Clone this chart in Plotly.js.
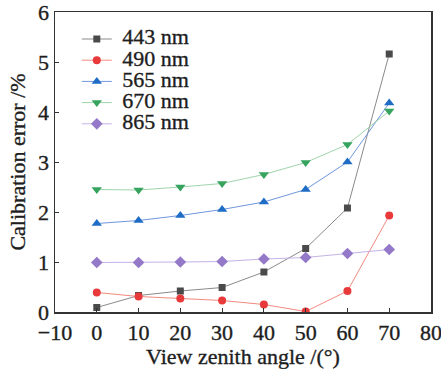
<!DOCTYPE html>
<html>
<head>
<meta charset="utf-8">
<script src="https://cdn.plot.ly/plotly-3.0.1.min.js"></script>
<style>
html,body{margin:0;padding:0;background:#fff;}
#chart{width:441px;height:369px;}
#chart svg text{stroke:#1e1e1e;stroke-width:0.35px;paint-order:stroke;}
</style>
</head>
<body>
<div id="chart"></div>
<script>
const angles = [0, 10, 20, 30, 40, 50, 60, 70];
const seriesNames = ["443 nm", "490 nm", "565 nm", "670 nm", "865 nm"];
const err443 = [0.09, 0.33, 0.42, 0.49, 0.80, 1.27, 2.08, 5.16];
const err490 = [0.39, 0.31, 0.27, 0.23, 0.15, 0.01, 0.42, 1.93];
const err565 = [1.77, 1.83, 1.93, 2.05, 2.20, 2.45, 3.00, 4.18];
const err670 = [2.45, 2.44, 2.50, 2.57, 2.75, 2.99, 3.35, 4.02];
const err865 = [0.99, 0.99, 1.00, 1.01, 1.06, 1.09, 1.17, 1.25];
const xTicks = [-10, 0, 10, 20, 30, 40, 50, 60, 70, 80];
const yTicks = [0, 1, 2, 3, 4, 5, 6];

const styles = [
  {line: "#8a8a8a", marker: "#4a4a4a", symbol: "square", size: 7},
  {line: "#f28a80", marker: "#e8393b", symbol: "circle", size: 8},
  {line: "#7097dc", marker: "#1e6cc6", symbol: "triangle-up", size: 9},
  {line: "#9fd4ab", marker: "#36a35f", symbol: "triangle-down", size: 9},
  {line: "#c3b3e6", marker: "#9579c9", symbol: "diamond", size: 9}
];
const values = [err443, err490, err565, err670, err865];
const fam = "Liberation Serif, Times New Roman, serif";
const txt = "#1e1e1e";

const traces = values.map((v, i) => ({
  x: angles, y: v, type: "scatter", mode: "lines+markers",
  name: '<span style="font-size:22px"> ' + seriesNames[i] + '</span>',
  line: {color: styles[i].line, width: 1},
  marker: {color: styles[i].marker, symbol: styles[i].symbol, size: styles[i].size}
}));

const layout = {
  width: 441, height: 369,
  margin: {l: 55, r: 10, t: 12, b: 57},
  paper_bgcolor: "#fff", plot_bgcolor: "#fff",
  font: {family: fam, size: 22, color: txt},
  showlegend: true,
  legend: {x: 0.058, y: 0.962, xanchor: "left", yanchor: "top", bgcolor: "rgba(0,0,0,0)",
           font: {family: fam, size: 14, color: txt}, tracegroupgap: 0, itemwidth: 30},
  xaxis: {range: [-10, 80], tickvals: xTicks, ticktext: xTicks.map(t => t < 0 ? "\u2212" + Math.abs(t) : String(t)),
          ticks: "inside", ticklen: 4, tickcolor: "#333", showgrid: false, zeroline: false,
          ticklabeloverflow: "allow",
          showline: true, linecolor: "#333", linewidth: 1.5, mirror: true,
          title: {text: "View zenith angle /(°)", font: {family: fam, size: 22, color: txt}, standoff: 0}},
  yaxis: {range: [0, 6], tickvals: yTicks, ticks: "inside", ticklen: 4, tickcolor: "#333",
          ticklabeloverflow: "allow",
          showgrid: false, zeroline: false, showline: true, linecolor: "#333", linewidth: 1.5, mirror: true,
          title: {text: "Calibration error /%", font: {family: fam, size: 22, color: txt}, standoff: 6}}
};
Plotly.newPlot("chart", traces, layout, {staticPlot: true, displayModeBar: false});
</script>
</body>
</html>
